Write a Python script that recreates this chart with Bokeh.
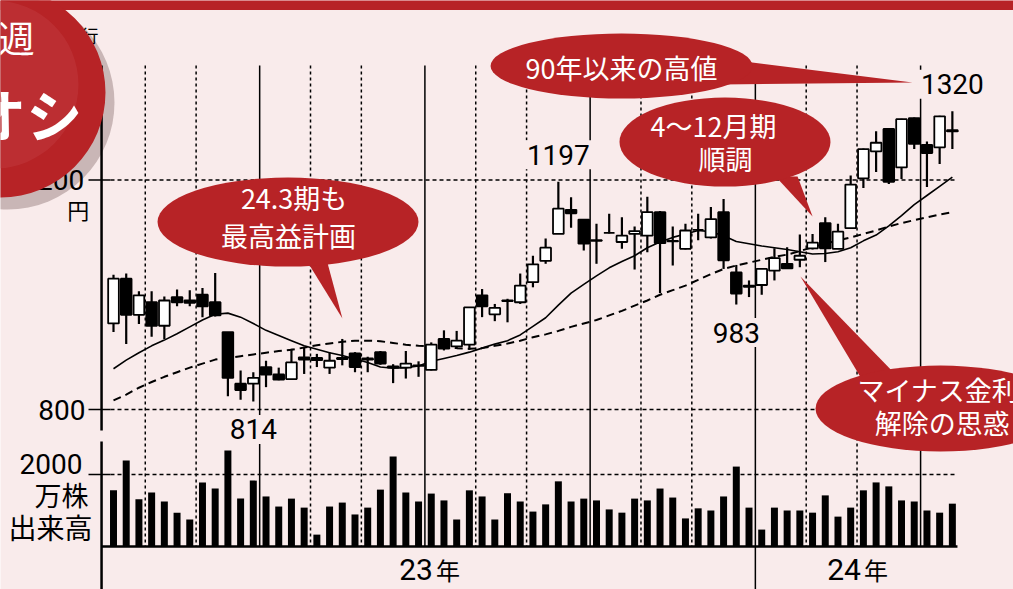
from bokeh.plotting import figure
from bokeh.models import Range1d, ColumnDataSource
from bokeh.core.properties import value
from bokeh.embed import file_html
from bokeh.resources import INLINE

# ---------------- data (weekly, Jan 2023 - Apr 2024) ----------------
weeks = list(range(67))
opens = [950, 1028, 965, 987, 946, 996, 990, 1000, 987, 935,
         845, 845, 874, 861, 853, 891, 890, 873, 888, 898,
         889, 900, 875, 873, 877, 869, 923, 910, 913, 999,
         966, 989, 987, 1022, 1059, 1106, 1148, 1131, 1095, 1108,
         1092, 1106, 1103, 1144, 1094, 1080, 1113, 1100, 1144, 1039,
         1014, 1017, 1042, 1054, 1061, 1081, 1125, 1080, 1116, 1203,
         1250, 1289, 1222, 1308, 1261, 1257, 1287]
highs = [1035, 1037, 1006, 1006, 997, 1009, 1008, 1012, 1038, 935,
         868, 865, 885, 873, 906, 908, 897, 900, 923, 900,
         892, 902, 879, 902, 884, 917, 938, 937, 978, 1010,
         984, 993, 1037, 1068, 1098, 1197, 1170, 1131, 1124, 1141,
         1135, 1119, 1171, 1146, 1119, 1124, 1141, 1153, 1167, 1052,
         1025, 1046, 1081, 1083, 1105, 1106, 1135, 1124, 1208, 1255,
         1285, 1290, 1307, 1309, 1267, 1312, 1320]
lows = [935, 914, 949, 927, 923, 980, 980, 961, 962, 823,
        817, 814, 839, 851, 853, 862, 874, 862, 877, 865,
        865, 878, 846, 854, 857, 868, 903, 906, 904, 961,
        954, 952, 984, 1013, 1054, 1106, 1117, 1077, 1054, 1107,
        1080, 1044, 1074, 1003, 1051, 1079, 1095, 1098, 1045, 983,
        996, 1000, 1025, 1045, 1048, 1079, 1057, 1080, 1116, 1186,
        1214, 1193, 1202, 1254, 1188, 1228, 1254]
closes = [1028, 965, 999, 946, 990, 987, 986, 980, 964, 855,
          834, 855, 861, 852, 882, 887, 886, 885, 890, 874,
          887, 880, 873, 880, 876, 913, 906, 920, 978, 980,
          977, 990, 1016, 1053, 1082, 1150, 1142, 1089, 1094, 1108,
          1103, 1111, 1144, 1090, 1093, 1112, 1113, 1132, 1060, 1002,
          1016, 1045, 1064, 1046, 1068, 1091, 1081, 1110, 1192, 1254,
          1265, 1197, 1306, 1263, 1247, 1311, 1285]
ma13 = [871, 886, 899, 911, 921, 932, 944, 956, 966, 968,
        961, 950, 938, 929, 920, 911, 905, 899, 894, 888,
        882, 874, 872, 873, 876, 884, 889, 894, 900, 907,
        914, 920, 930, 945, 960, 982, 1003, 1018, 1033, 1047,
        1058, 1068, 1082, 1092, 1100, 1106, 1112, 1110, 1103, 1093,
        1089, 1085, 1082, 1079, 1075, 1071, 1072, 1075, 1082, 1094,
        1104, 1120, 1138, 1157, 1173, 1189, 1205]
ma26 = [816, 826, 838, 848, 857, 865, 873, 880, 887, 890,
        893, 896, 899, 902, 904, 908, 912, 915, 918, 920,
        920, 919, 916, 913, 911, 910, 909, 907, 906, 907,
        911, 915, 920, 926, 931, 937, 944, 950, 956, 964,
        972, 981, 990, 1000, 1008, 1016, 1026, 1036, 1045, 1051,
        1056, 1061, 1066, 1070, 1076, 1083, 1089, 1095, 1100, 1106,
        1112, 1119, 1125, 1130, 1135, 1140, 1144]
volume = [1560, 2390, 1310, 1500, 1250, 940, 750, 1780, 1610, 2670,
          1330, 1830, 1390, 1110, 1330, 1080, 330, 1110, 1220, 890,
          1080, 1580, 2500, 1500, 1250, 1470, 1280, 750, 1560, 1390,
          750, 1480, 1250, 970, 1170, 1810, 1250, 1330, 1280, 1030,
          940, 1330, 1280, 1610, 1360, 780, 1060, 1000, 1390, 2220,
          1080, 470, 1080, 1000, 1000, 940, 1420, 830, 1080, 1560,
          1780, 1670, 1280, 1250, 1000, 940, 1190]   # 万株

month_bounds = [2.5, 6.5, 11.5, 15.5, 19.5, 24.5, 28.5, 32.5, 37.5,
                41.5, 45.5, 50.5, 54.5, 58.5, 63.5]
quarter_bounds = [11.5, 24.5, 37.5, 50.5, 63.5]
price_ticks = [1200, 800]
price_tick_labels = ["1200", "800"]
vol_ticks = [2000]
vol_tick_labels = ["2000"]
year_labels = ["23", "24"]
year_bounds = [-0.94, 50.5, 66.4]

# ---------------- geometry / style ----------------
BG = "#F9EBEB"
RED = "#B72326"
JP = value("Noto Sans CJK JP")
NUM = value("Roboto")
W, H = 1013, 589
X0, X1 = -8.891, 70.81
P0, P1 = 486.3, 1512.9
V0, V1 = -1194.4, 15166.7
XPX = (X1 - X0) / W      # weeks per px
YPX = (P1 - P0) / H      # yen per px


def v2p(v):
    return P0 + (v - V0) * (P1 - P0) / (V1 - V0)


p = figure(width=W, height=H, x_range=Range1d(X0, X1), y_range=Range1d(P0, P1),
           output_backend="svg", toolbar_location=None, min_border=0,
           x_axis_location=None, y_axis_location=None, outline_line_color=None,
           background_fill_color=BG, border_fill_color=BG)
p.grid.visible = False
p.extra_y_ranges = {"vol": Range1d(V0, V1)}

AX_X = year_bounds[0]
RIGHT = year_bounds[-1]
GRID_TOP = 1399.6
PRICE_BOTTOM = 763.4
VOL_TOP = 2917

# badge geometry (partly outside the picture)
BADGE_X, BADGE_Y, BADGE_W, BADGE_H = -8.891, 1352.5, 16.52, 366.0

# badge shadow (below everything)
p.ellipse(x=[BADGE_X + 7 * XPX], y=[BADGE_Y - 10 * YPX], width=[BADGE_W + 4 * XPX],
          height=[BADGE_H + 4 * YPX], fill_color="#8f7676", fill_alpha=0.45, line_color=None)

# top band
p.quad(left=[X0], right=[X1], bottom=[1496.3], top=[P1 + 20], fill_color=RED, line_color=None)

# vertical month grid
dotted = [b for b in month_bounds if b not in quarter_bounds]
p.segment(x0=dotted, y0=[GRID_TOP] * len(dotted), x1=dotted, y1=[v2p(0)] * len(dotted),
          line_color="black", line_width=1.5, line_dash="3 3")
p.segment(x0=quarter_bounds, y0=[GRID_TOP] * len(quarter_bounds), x1=quarter_bounds,
          y1=[v2p(0)] * len(quarter_bounds), line_color="black", line_width=1.5)

# horizontal dashed grid + ticks
hy = list(price_ticks) + [v2p(v) for v in vol_ticks]
p.segment(x0=[-0.236] * len(hy), y0=hy, x1=[RIGHT] * len(hy), y1=hy,
          line_color="black", line_width=1.3, line_dash="4 3")
p.segment(x0=[-1.967] * len(hy), y0=hy, x1=[-0.236] * len(hy), y1=hy,
          line_color="black", line_width=1.6)

# axis lines
p.segment(x0=[AX_X, AX_X], y0=[GRID_TOP, v2p(VOL_TOP)], x1=[AX_X, AX_X], y1=[PRICE_BOTTOM, P0 - 20],
          line_color="black", line_width=2.5)
p.segment(x0=[year_bounds[1]], y0=[v2p(0)], x1=[year_bounds[1]], y1=[P0 - 20],
          line_color="black", line_width=1.5)

# label masks & price labels
hi_idx = [35, 66]
lo_idx = [11, 49]
lab_x = hi_idx + lo_idx
lab_y = [highs[i] + 27 * YPX for i in hi_idx] + [lows[i] - 28 * YPX for i in lo_idx]
lab_t = [str(highs[i]) for i in hi_idx] + [str(lows[i]) for i in lo_idx]
lab_w = [16 * len(t) + 4 for t in lab_t]
p.rect(x=lab_x, y=lab_y, width=lab_w, height=[29] * 4, width_units="screen",
       height_units="screen", fill_color=BG, line_color=None)

# moving averages
p.line(weeks, ma13, line_color="black", line_width=1.6)
p.line(weeks, ma26, line_color="black", line_width=2, line_dash="8 5")

# candles
src = ColumnDataSource(dict(
    x=weeks, high=highs, low=lows,
    top=[max(o, c) for o, c in zip(opens, closes)],
    bottom=[min(o, c) for o, c in zip(opens, closes)],
    fill=["white" if c >= o else "black" for o, c in zip(opens, closes)],
))
p.segment(x0="x", y0="low", x1="x", y1="high", source=src, line_color="black", line_width=2.2)
p.vbar(x="x", top="top", bottom="bottom", width=0.84, source=src,
       fill_color="fill", line_color="black", line_width=1.8)

# volume
p.vbar(x=weeks, top=volume, bottom=0, width=0.55, y_range_name="vol",
       fill_color="black", line_color=None)
p.segment(x0=[AX_X], y0=[0], x1=[RIGHT], y1=[0], y_range_name="vol",
          line_color="black", line_width=2.6)

# texts
p.text(x=lab_x, y=lab_y, text=lab_t, text_font=NUM, text_font_size="28px",
       text_align="center", text_baseline="middle", text_color="black")
p.text(x=[-2.3, -2.2], y=price_ticks, text=price_tick_labels, text_font=NUM,
       text_font_size="28px", text_align="right", text_baseline="middle", text_color="black")
p.text(x=[-2.44], y=[v2p(2278)], text=vol_tick_labels, text_font=NUM,
       text_font_size="28px", text_align="right", text_baseline="middle", text_color="black")
p.text(x=[-1.9], y=[1150.3], text=["円"], text_font=JP, text_font_size="22px",
       text_align="right", text_baseline="middle", text_color="black")
p.text(x=[-1.97, -1.65], y=[v2p(1444), v2p(528)], text=["万株", "出来高"], text_font=JP,
       text_font_size=["27px", "28px"], text_align="right", text_baseline="middle",
       text_color="black")
ycx = [(a + b) / 2 for a, b in zip(year_bounds[:-1], year_bounds[1:])]
p.text(x=[c + 0.35 for c in ycx], y=[v2p(-640)] * 2, text=year_labels, text_font=NUM,
       text_font_size="30px", text_align="right", text_baseline="middle", text_color="black")
p.text(x=[c + 0.6 for c in ycx], y=[v2p(-640)] * 2, text=["年", "年"], text_font=JP,
       text_font_size="24px", text_align="left", text_baseline="middle", text_color="black")

# balloons
balloons = [
    dict(c=(13.73, 1126.8), w=20.53, h=155.1,
         tail=([14.95, 16.68, 18.01], [1068.4, 1068.4, 958.6]),
         lines=[(14.21, 1169.5, "24.3期も"), (13.77, 1103.3, "最高益計画")]),
    dict(c=(39.97, 1398.7), w=20.61, h=113.3,
         tail=([47.76, 47.76, 62.86], [1411.8, 1366.4, 1369.9]),
         lines=[(39.97, 1396.1, "90年以来の高値")]),
    dict(c=(48.11, 1266.2), w=16.6, h=155.1,
         tail=([52.09, 53.82, 55.0], [1206.1, 1206.1, 1136.4]),
         lines=[(47.2, 1295.0, "4～12月期"), (48.15, 1237.5, "順調")]),
    dict(c=(65.07, 801.7), w=19.67, h=149.9,
         tail=([58.93, 61.53, 54.05], [850.5, 861.0, 1031.8]),
         lines=[(64.9, 834.9, "マイナス金利"), (65.2, 777.3, "解除の思惑")]),
]
p.patches(xs=[b["tail"][0] for b in balloons], ys=[b["tail"][1] for b in balloons],
          fill_color=RED, line_color=None)
p.ellipse(x=[b["c"][0] for b in balloons], y=[b["c"][1] for b in balloons],
          width=[b["w"] for b in balloons], height=[b["h"] for b in balloons],
          fill_color=RED, line_color=None)
tx, ty, tt = [], [], []
for b in balloons:
    for (x, y, t) in b["lines"]:
        tx.append(x); ty.append(y); tt.append(t)
p.text(x=tx, y=ty, text=tt, text_font=JP, text_font_size="27px", text_align="center",
       text_baseline="middle", text_color="white")

# title fragment and badge
p.text(x=[-1.18], y=[1451.9], text=["銀行"], text_font=JP, text_font_size="18px",
       text_align="right", text_baseline="middle", text_color="black")
p.ellipse(x=[BADGE_X], y=[BADGE_Y], width=[BADGE_W], height=[BADGE_H],
          fill_color=RED, line_color=None)
p.ellipse(x=[BADGE_X - 6 * XPX], y=[BADGE_Y + 8 * YPX], width=[BADGE_W * 0.8],
          height=[BADGE_H * 0.8], fill_color="#C23A3E", fill_alpha=0.5, line_color=None)
p.text(x=[-6.2], y=[1450.1], text=["今週"], text_font=JP, text_font_size="37px",
       text_align="right", text_baseline="middle", text_color="white")
p.text(x=[-2.45], y=[1317.7], text=["イチオシ"], text_font=JP, text_font_size="56px",
       text_font_style="bold", text_align="right", text_baseline="middle", text_color="white")

open("out.html", "w").write(file_html(p, INLINE))
